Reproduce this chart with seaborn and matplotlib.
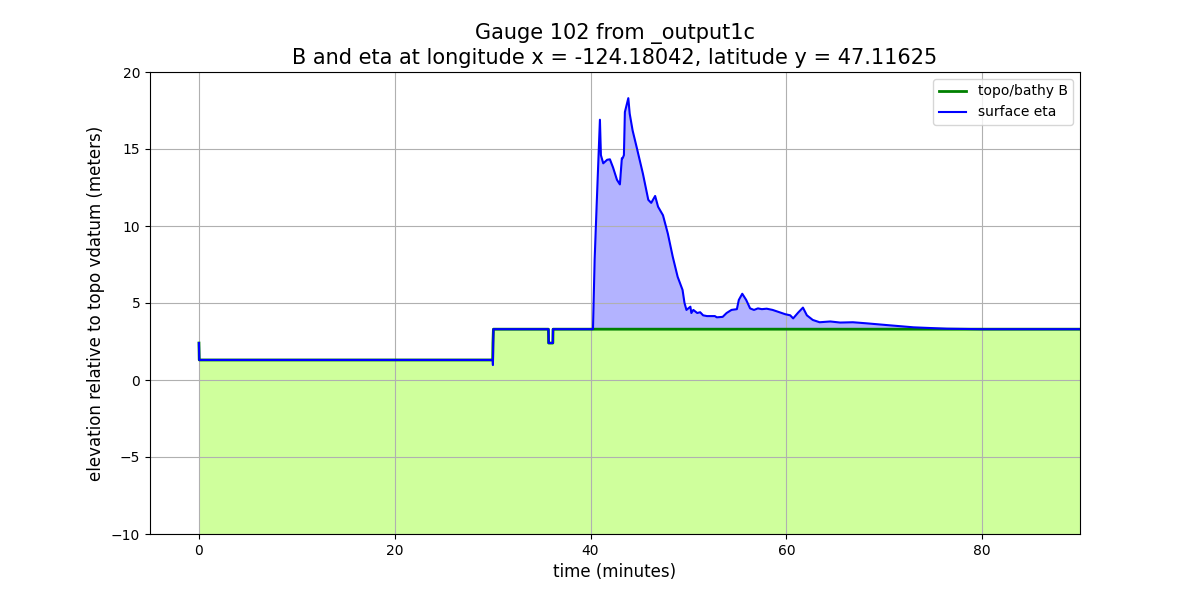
import numpy as np
import pandas as pd
import matplotlib
matplotlib.use('Agg')
import matplotlib.pyplot as plt
import seaborn as sns

# ── Gauge 102 values (time in minutes, meters) ───────────────────────────────
t_min = [0.0, 0.03, 30.0, 30.03, 30.08, 35.7, 35.72, 36.15, 36.17, 40.25,
         40.42, 40.62, 40.96, 41.06, 41.3, 41.7, 41.98, 42.3, 42.7, 43.0,
         43.2, 43.28, 43.41, 43.51, 43.86, 44.0, 44.3, 44.7, 45.35, 45.9,
         46.2, 46.6, 46.9, 47.4, 47.9, 48.4, 48.9, 49.4, 49.6, 49.8,
         50.2, 50.3, 50.5, 50.9, 51.2, 51.5, 51.9, 52.7, 52.9, 53.5,
         53.9, 54.4, 54.95, 55.15, 55.5, 55.9, 56.3, 56.7, 57.1, 57.5,
         58.0, 58.6, 59.3, 59.9, 60.4, 60.7, 61.2, 61.7, 62.1, 62.7,
         63.4, 64.5, 65.5, 66.8, 68.2, 70.2, 73.0, 76.4, 79.8, 90.0]
topo_B = [2.4, 1.3, 1.3, 2.4, 3.3, 3.3, 2.4, 2.4, 3.3, 3.3] + [3.3] * 70
surface_eta = [2.4, 1.3, 1.3, 0.97, 3.3, 3.3, 2.4, 2.4, 3.3, 3.3,
               7.8, 11.25, 16.9, 14.6, 14.07, 14.3, 14.33, 13.8, 13.0, 12.7,
               14.4, 14.4, 14.6, 17.4, 18.3, 17.3, 16.2, 15.15, 13.4, 11.7,
               11.5, 11.95, 11.25, 10.7, 9.5, 8.0, 6.7, 5.85, 5.0, 4.55,
               4.76, 4.35, 4.55, 4.35, 4.4, 4.2, 4.15, 4.15, 4.07, 4.1,
               4.35, 4.55, 4.6, 5.2, 5.6, 5.2, 4.65, 4.55, 4.65, 4.6,
               4.63, 4.55, 4.4, 4.27, 4.2, 4.0, 4.37, 4.7, 4.2, 3.9,
               3.75, 3.8, 3.73, 3.75, 3.68, 3.57, 3.42, 3.33, 3.3, 3.3]

df = pd.DataFrame({'t': t_min, 'B': topo_B, 'eta': surface_eta})

fig, ax = plt.subplots(figsize=(12, 6), dpi=100)

# fills: land below B, water between B and eta
ax.fill_between(df['t'], -10, df['B'], color='#cfff9c', lw=0)
ax.fill_between(df['t'], df['B'], df['eta'], color='#b3b3ff', lw=0)

sns.lineplot(data=df, x='t', y='B', color='g', linewidth=2,
             label='topo/bathy B', ax=ax, sort=False, estimator=None)
sns.lineplot(data=df, x='t', y='eta', color='b', linewidth=1.5,
             label='surface eta', ax=ax, sort=False, estimator=None)

ax.set_xlim(-5, 90)
ax.set_ylim(-10, 20)
ax.grid(True)
ax.set_xlabel('time (minutes)', fontsize=12)
ax.set_ylabel('elevation relative to topo vdatum (meters)', fontsize=12)
ax.set_title('Gauge 102 from _output1c\n'
             'B and eta at longitude x = -124.18042, latitude y = 47.11625',
             fontsize=15)
ax.legend(loc='upper right')

plt.savefig('out.png', dpi=100)
plt.close()
